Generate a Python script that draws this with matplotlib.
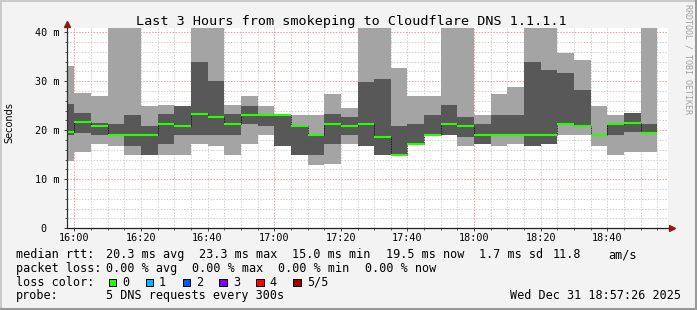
import numpy as np
import pandas as pd
import matplotlib
matplotlib.use('Agg')
import matplotlib.pyplot as plt
import matplotlib.dates as mdates
from matplotlib.patches import Rectangle
from matplotlib.lines import Line2D

# 5 pings per 5-minute bin, sorted: p1 = fastest ... p5 = slowest (ms)
# values above 41 ms run off the top of the graph
bin_start = pd.date_range('2025-12-31 15:55', periods=36, freq='5min')
p1 = [13.7, 15.6, 17.1, 16.8, 14.9, 14.9, 14.9, 14.9, 17.1, 16.7, 14.9, 17.1,
      19.0, 16.8, 14.9, 12.9, 13.1, 17.1, 16.8, 14.9, 14.9, 17.1, 19.0, 19.0,
      16.7, 17.1, 16.8, 17.1, 16.8, 17.1, 19.0, 19.0, 16.8, 14.9, 15.6, 15.6]
p2 = [19.0, 19.5, 19.0, 19.0, 16.8, 14.9, 17.1, 19.0, 19.0, 19.0, 19.0, 21.2,
      20.8, 16.8, 14.9, 14.9, 17.1, 19.0, 16.8, 14.9, 14.9, 17.1, 19.0, 19.0,
      18.6, 17.1, 19.0, 19.0, 16.8, 17.1, 21.2, 20.8, 19.0, 19.0, 19.7, 19.5]
median = [19.6, 21.7, 20.8, 19.0, 19.0, 19.0, 21.3, 20.8, 23.3, 22.7, 21.3, 23.1,
          23.1, 23.1, 20.8, 19.0, 21.3, 20.8, 21.3, 18.6, 15.0, 17.1, 19.0, 21.3,
          20.8, 19.0, 19.0, 19.0, 19.0, 19.0, 21.3, 20.8, 19.0, 21.2, 21.5, 19.5]
p4 = [25.3, 23.5, 21.5, 21.2, 23.1, 20.8, 23.3, 24.9, 33.9, 30.1, 23.3, 24.9,
      23.1, 23.1, 20.8, 19.0, 23.3, 22.7, 29.8, 30.4, 20.8, 21.2, 23.1, 25.1,
      22.7, 21.2, 23.1, 23.1, 33.9, 32.2, 31.7, 28.2, 19.2, 21.2, 23.5, 21.2]
p5 = [33.1, 27.6, 26.9, 45.0, 45.0, 24.9, 25.1, 24.9, 45.0, 45.0, 25.1, 26.9,
      24.9, 23.1, 23.1, 23.1, 27.3, 24.5, 45.0, 45.0, 32.7, 26.9, 26.9, 45.0,
      45.0, 23.1, 27.3, 28.8, 45.0, 45.0, 35.8, 34.3, 24.9, 23.1, 23.5, 45.0]

rtt_avg, rtt_max, rtt_min, rtt_now, rtt_sd, am_s = 20.3, 23.3, 15.0, 19.5, 1.7, 11.8
loss_avg, loss_max, loss_min, loss_now = 0.0, 0.0, 0.0, 0.0
loss_labels = ['0', '1', '2', '3', '4', '5/5']
loss_colors = ['#26ff00', '#00b8ff', '#0059ff', '#7e00ff', '#ff0000', '#a10000']
x_ticks = ['16:00', '16:20', '16:40', '17:00', '17:20', '17:40', '18:00', '18:20', '18:40']
y_ticks = [0, 10, 20, 30, 40]
y_tick_labels = ['0  ', '10 m', '20 m', '30 m', '40 m']

W, H = 697, 310
mono = 'DejaVu Sans Mono'
fig = plt.figure(figsize=(W / 100, H / 100), dpi=100, facecolor='#f3f3f3')
ax = fig.add_axes([66.7 / W, 1 - 228.3 / H, 601.6 / W, 200.3 / H], facecolor='white')

x = mdates.date2num(bin_start.to_pydatetime())
w = 5 / 1440
p1, p2, median, p4, p5 = map(np.array, (p1, p2, median, p4, p5))

# grid first, data on top (rrdtool style)
grid_times = pd.date_range('2025-12-31 16:00', '2025-12-31 18:55', freq='5min')
for t in grid_times:
    c = '#f2a0a0' if t.minute == 0 else '#d2d2d2'
    ax.axvline(mdates.date2num(t.to_pydatetime()), color=c, lw=0.75, ls=(0, (1.4, 1.4)), zorder=1)
for v in range(2, 41, 2):
    c = '#f2a0a0' if v % 10 == 0 else '#d2d2d2'
    ax.axhline(v, color=c, lw=0.75, ls=(0, (1.4, 1.4)), zorder=1)

# smoke
ax.bar(x, p5 - p1, bottom=p1, width=w, align='edge', color='#a4a4a4', lw=0, zorder=2)
ax.bar(x, p4 - p2, bottom=p2, width=w, align='edge', color='#585858', lw=0, zorder=3)
# median
ax.vlines(x[1:], median[:-1], median[1:], colors='black', lw=0.6, linestyles=(0, (1, 1)), zorder=4)
ax.hlines(median, x, x + w, colors=loss_colors[0], lw=1.5, zorder=5)

ax.set_xlim(mdates.date2num(pd.Timestamp('2025-12-31 15:57:45').to_pydatetime()),
            mdates.date2num(pd.Timestamp('2025-12-31 18:58:15').to_pydatetime()))
ax.set_ylim(0, 40.85)

tick_pos = [mdates.date2num(pd.Timestamp('2025-12-31 ' + s).to_pydatetime()) for s in x_ticks]
ax.set_xticks(tick_pos)
ax.set_xticklabels(x_ticks, family=mono, fontsize=7.3)
ax.set_xticks(mdates.date2num(grid_times.to_pydatetime()), minor=True)
ax.set_yticks(y_ticks)
ax.set_yticklabels(y_tick_labels, family=mono, fontsize=7.3)
ax.set_yticks(range(2, 41, 2), minor=True)
ax.tick_params(which='major', length=2.2, width=0.7, color='#404040', pad=1.5)
ax.tick_params(which='minor', length=1.4, width=0.6, color='#404040')
ax.tick_params(axis='y', which='major', pad=3.2)

for s in ax.spines.values():
    s.set_visible(False)
ax.plot([0, 0], [0, 1.03], transform=ax.transAxes, clip_on=False, color='#303030', lw=0.9, zorder=6)
ax.plot([0, 1.01], [0, 0], transform=ax.transAxes, clip_on=False, color='#202020', lw=0.9, zorder=6)
ax.plot([0], [1.022], marker='^', ms=4, color='#8b1a1a', transform=ax.transAxes, clip_on=False, zorder=7)
ax.plot([1.006], [0], marker='>', ms=4, color='#8b1a1a', transform=ax.transAxes, clip_on=False, zorder=7)

fig.text(351.3 / W, 1 - 24.5 / H, 'Last 3 Hours from smokeping to Cloudflare DNS 1.1.1.1',
         family=mono, fontsize=9.7, ha='center', va='baseline')
fig.text(9.5 / W, 1 - 122.5 / H, 'Seconds', rotation=90, ha='center', va='center', fontsize=7)
fig.text(688 / W, 1 - 4 / H, 'RRDTOOL / TOBI OETIKER', rotation=270, ha='center', va='top',
         family=mono, fontsize=6, color='#a0a0a0')

# legend block: rrdtool places each legend element on its own
fs = 8.45


def legend_row(items, y):
    for px, s in items:
        fig.text(px / W, 1 - y / H, s, family=mono, fontsize=fs, va='baseline')


legend_row([(15.5, 'median rtt:'),
            (106.3, '%.1f ms avg' % rtt_avg),
            (199.0, '%.1f ms max' % rtt_max),
            (292.0, '%.1f ms min' % rtt_min),
            (386.3, '%.1f ms now' % rtt_now),
            (478.6, '%.1f ms sd' % rtt_sd),
            (552.6, '%.1f' % am_s),
            (608.5, 'am/s')], 258.3)
legend_row([(15.5, 'packet loss:'),
            (106.3, '%.2f %% avg' % loss_avg),
            (192.3, '%.2f %% max' % loss_max),
            (278.3, '%.2f %% min' % loss_min),
            (365.0, '%.2f %% now' % loss_now)], 272)
legend_row([(15.5, 'loss color:')], 285.7)
for i, (lab, col) in enumerate(zip(loss_labels, loss_colors)):
    bx = 108.7 + 36.9 * i
    fig.patches.append(Rectangle((bx / W, 1 - 286.3 / H), 7.5 / W, 7.5 / H, transform=fig.transFigure,
                                 facecolor=col, edgecolor='black', lw=0.7))
    fig.text((bx + 13.5) / W, 1 - 285.7 / H, lab, family=mono, fontsize=fs, va='baseline')
legend_row([(15.5, 'probe:'), (106.0, '5 DNS requests every 300s')], 299.3)
fig.text(681 / W, 1 - 299.3 / H, 'Wed Dec 31 18:57:26 2025', family=mono, fontsize=fs, ha='right', va='baseline')

# 3d-ish frame
fig.add_artist(Line2D([0, 1], [1 - 1 / H] * 2, transform=fig.transFigure, color='#cbcbcb', lw=1.44))
fig.add_artist(Line2D([1 / W] * 2, [0, 1], transform=fig.transFigure, color='#cbcbcb', lw=1.44))
fig.add_artist(Line2D([0, 1], [1.5 / H] * 2, transform=fig.transFigure, color='#999999', lw=2.2))
fig.add_artist(Line2D([1 - 1.5 / W] * 2, [0, 1], transform=fig.transFigure, color='#999999', lw=2.2))

fig.savefig('out.png', dpi=100, facecolor=fig.get_facecolor())
